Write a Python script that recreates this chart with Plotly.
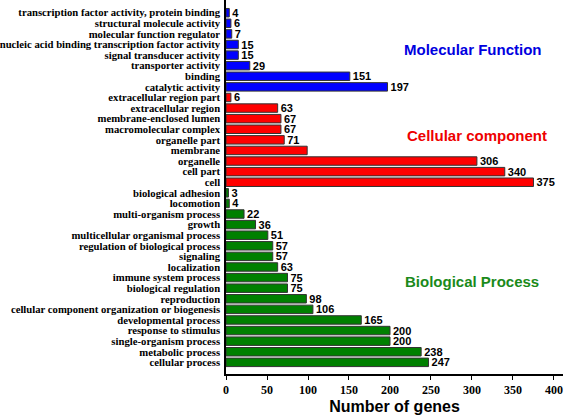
import plotly.graph_objects as go

categories = [
    "transcription factor activity, protein binding",
    "structural molecule activity",
    "molecular function regulator",
    "nucleic acid binding transcription factor activity",
    "signal transducer activity",
    "transporter activity",
    "binding",
    "catalytic activity",
    "extracellular region part",
    "extracellular region",
    "membrane-enclosed lumen",
    "macromolecular complex",
    "organelle part",
    "membrane",
    "organelle",
    "cell part",
    "cell",
    "biological adhesion",
    "locomotion",
    "multi-organism process",
    "growth",
    "multicellular organismal process",
    "regulation of biological process",
    "signaling",
    "localization",
    "immune system process",
    "biological regulation",
    "reproduction",
    "cellular component organization or biogenesis",
    "developmental process",
    "response to stimulus",
    "single-organism process",
    "metabolic process",
    "cellular process",
]
values = [4, 6, 7, 15, 15, 29, 151, 197,
          6, 63, 67, 67, 71, 99, 306, 340, 375,
          3, 4, 22, 36, 51, 57, 57, 63, 75, 75, 98, 106, 165, 200, 200, 238, 247]
groups = ["MF"] * 8 + ["CC"] * 9 + ["BP"] * 17
show_label = [True] * 13 + [False] + [True] * 20
x_ticks = [0, 50, 100, 150, 200, 250, 300, 350, 400]

group_colors = {"MF": "#0000FF", "CC": "#FF0000", "BP": "#008000"}
group_text_colors = {"MF": "#0000E0", "CC": "#EE0000", "BP": "#1A8A1A"}
group_names = {"MF": "Molecular Function", "CC": "Cellular component", "BP": "Biological Process"}

SERIF = "Liberation Serif, Times New Roman, serif"
SANS = "Liberation Sans, Arial, sans-serif"

fig = go.Figure()
fig.add_trace(go.Bar(
    x=values,
    y=categories,
    orientation="h",
    marker=dict(color=[group_colors[g] for g in groups],
                line=dict(color="#333333", width=1)),
    width=0.8,
    text=[str(v) if s else "" for v, s in zip(values, show_label)],
    textposition="outside",
    constraintext="none",
    cliponaxis=False,
    textfont=dict(family=SANS, size=11, color="black"),
    texttemplate="<b>%{text}</b>",
    hoverinfo="x+y",
))

n = len(categories)
fig.update_yaxes(
    type="category",
    range=[n - 1 + 1.1, -1.2],
    showline=True, linecolor="black", linewidth=1.5,
    ticks="", showgrid=False, automargin=False,
    tickvals=categories,
    ticktext=["<b>%s</b>" % c for c in categories],
    tickfont=dict(family=SERIF, size=10.7, color="black"),
    ticklabelstandoff=2,
)
fig.update_xaxes(
    range=[0, 411],
    tickvals=x_ticks,
    ticktext=["<b>%d</b>" % v for v in x_ticks],
    ticklabeloverflow="allow",
    showline=True, linecolor="black", linewidth=1.5,
    ticks="outside", ticklen=4, tickcolor="black", tickwidth=1.2,
    showgrid=False, zeroline=False, automargin=False,
    tickfont=dict(family=SERIF, size=12, color="black"),
    title=dict(text="<b>Number of genes</b>", font=dict(family=SANS, size=16, color="black"), standoff=8),
)

ann_pos = {"MF": (473, 50), "CC": (477, 135), "BP": (472, 281)}
x_left, x_right = 226, 563
for g, (px, py) in ann_pos.items():
    fig.add_annotation(
        x=(px - x_left) / (x_right - x_left), y=1 - py / 374, xref="paper", yref="paper",
        text="<b>%s</b>" % group_names[g], showarrow=False,
        font=dict(family=SANS, size=15, color=group_text_colors[g]),
        xanchor="center", yanchor="middle",
    )

fig.update_layout(
    width=567, height=415,
    margin=dict(l=x_left, r=567 - x_right, t=0, b=41),
    plot_bgcolor="white", paper_bgcolor="white",
    showlegend=False,
    bargap=0.2,
)
fig.write_html("out.html", config={"displayModeBar": False},
               post_script="document.body.style.margin='0';")
